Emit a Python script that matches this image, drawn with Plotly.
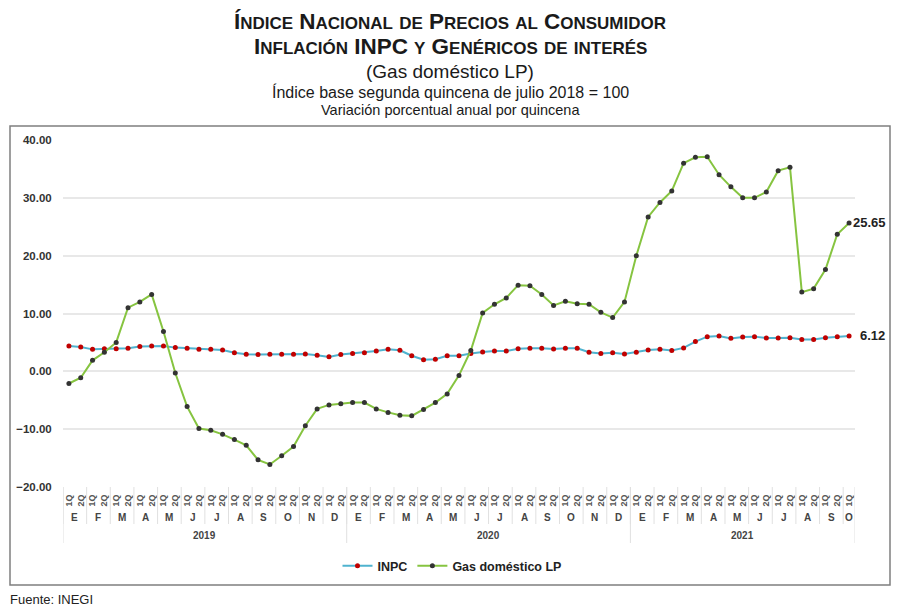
import plotly.graph_objects as go

# ---------------- data ----------------
quincenas = ["1Q", "2Q"] * 33 + ["1Q"]
meses = ["E", "F", "M", "A", "M", "J", "J", "A", "S", "O", "N", "D",
         "E", "F", "M", "A", "M", "J", "J", "A", "S", "O", "N", "D",
         "E", "F", "M", "A", "M", "J", "J", "A", "S", "O"]
anios = ["2019", "2020", "2021"]
quincenas_por_anio = [24, 24, 19]

inpc = [4.4, 4.2, 3.8, 3.9, 3.9, 4.0, 4.3, 4.4, 4.4, 4.1, 4.0, 3.8, 3.8, 3.7,
        3.2, 2.95, 2.9, 2.95, 2.95, 2.95, 3.0, 2.8, 2.5, 2.9,
        3.1, 3.2, 3.5, 3.8, 3.65, 2.7, 2.0, 2.1, 2.7, 2.7, 3.1, 3.35, 3.5, 3.5,
        3.9, 4.0, 4.0, 3.85, 4.0, 4.0, 3.3, 3.1, 3.2, 3.0,
        3.3, 3.7, 3.8, 3.6, 4.05, 5.15, 6.0, 6.1, 5.7, 5.95, 6.0, 5.75, 5.75,
        5.8, 5.5, 5.5, 5.8, 6.0, 6.12]

gas = [-2.1, -1.1, 1.9, 3.3, 5.0, 11.0, 12.0, 13.3, 6.9, -0.3, -6.1, -9.9,
       -10.2, -10.9, -11.8, -12.8, -15.3, -16.1, -14.6, -13.0, -9.4, -6.5, -5.8, -5.6,
       -5.4, -5.4, -6.5, -7.1, -7.6, -7.7, -6.6, -5.4, -3.9, -0.7, 3.6, 10.1,
       11.6, 12.7, 14.9, 14.8, 13.3, 11.4, 12.1, 11.7, 11.6, 10.2, 9.3, 12.0,
       20.0, 26.7, 29.2, 31.2, 36.0, 37.0, 37.1, 34.0, 31.9, 30.0, 30.0, 31.0,
       34.7, 35.3, 13.7, 14.3, 17.6, 23.7, 25.65]

# ---------------- layout geometry ----------------
# the page body has an 8px margin, so compensate
OFF = 8
W, H = 900 - 2 * OFF, 615 - 2 * OFF
L, R, T, B = 63 - OFF, 855 - OFF, 140 - OFF, 487 - OFF
pw, ph = R - L, B - T


def px(xref_px):
    return (xref_px - OFF - L) / pw


def py(yref_px):
    return (B - (yref_px - OFF)) / ph


x = list(range(len(quincenas)))
FONT = "Liberation Sans, Arial, sans-serif"

fig = go.Figure()
fig.add_trace(go.Scatter(
    x=x, y=inpc, name="INPC", mode="lines+markers",
    line=dict(color="#4fb3cf", width=2),
    marker=dict(color="#c00000", size=5)))
fig.add_trace(go.Scatter(
    x=x, y=gas, name="Gas doméstico LP", mode="lines+markers",
    line=dict(color="#86c440", width=2),
    marker=dict(color="#333333", size=5)))

annotations = []
shapes = []


def sc(text, big=22.5, small=17):
    out = []
    for word in text.split(" "):
        if word.startswith("!"):
            out.append(f'<span style="font-size:{big}px">{word[1:]}</span>')
        elif word.startswith("^"):
            out.append(f'<span style="font-size:{big}px">{word[1]}</span>'
                       f'<span style="font-size:{small}px">{word[2:]}</span>')
        else:
            out.append(f'<span style="font-size:{small}px">{word}</span>')
    return "<b>" + " ".join(out) + "</b>"


titles = [
    (sc("^ÍNDICE ^NACIONAL DE ^PRECIOS AL ^CONSUMIDOR"), 22, 21),
    (sc("^INFLACIÓN !INPC Y ^GENÉRICOS DE INTERÉS"), 22, 47),
    ("(Gas doméstico LP)", 19, 71),
    ("Índice base segunda quincena de julio 2018 = 100", 16, 92),
    ("Variación porcentual anual por quincena", 14.5, 110),
]
for txt, size, yp in titles:
    annotations.append(dict(
        text=txt, x=px(450), y=py(yp), xref="paper", yref="paper",
        showarrow=False, xanchor="center", yanchor="middle",
        font=dict(family=FONT, size=size, color="#1a1a1a")))

# month labels and dividers
DIV = "#e0e0e0"
for k, m in enumerate(meses):
    start = 2 * k - 0.5
    end = min(2 * k + 1.5, len(x) - 0.5)
    annotations.append(dict(
        text=f"<b>{m}</b>", x=(start + end) / 2, y=py(517), xref="x", yref="paper",
        showarrow=False, xanchor="center", yanchor="middle",
        font=dict(family=FONT, size=10, color="#444444")))
    shapes.append(dict(type="line", xref="x", yref="paper", x0=start, x1=start,
                       y0=py(487), y1=py(524), line=dict(color=DIV, width=1)))
shapes.append(dict(type="line", xref="x", yref="paper", x0=len(x) - 0.5, x1=len(x) - 0.5,
                   y0=py(487), y1=py(543), line=dict(color=DIV, width=1)))

# year labels and dividers
pos = -0.5
for a, n in zip(anios, quincenas_por_anio):
    annotations.append(dict(
        text=f"<b>{a}</b>", x=pos + n / 2, y=py(535), xref="x", yref="paper",
        showarrow=False, xanchor="center", yanchor="middle",
        font=dict(family=FONT, size=10, color="#444444")))
    shapes.append(dict(type="line", xref="x", yref="paper", x0=pos, x1=pos,
                       y0=py(487), y1=py(543), line=dict(color=DIV, width=1)))
    pos += n

# end labels
annotations.append(dict(
    text=f"<b>{gas[-1]:.2f}</b>", x=x[-1], y=gas[-1], xref="x", yref="y",
    showarrow=False, xanchor="left", yanchor="middle", xshift=2,
    font=dict(family=FONT, size=13, color="#222222")))
annotations.append(dict(
    text=f"<b>{inpc[-1]:.2f}</b>", x=x[-1], y=inpc[-1], xref="x", yref="y",
    showarrow=False, xanchor="left", yanchor="middle", xshift=9,
    font=dict(family=FONT, size=13, color="#222222")))

# source
annotations.append(dict(
    text="Fuente: INEGI", x=px(OFF), y=py(599), xref="paper", yref="paper",
    showarrow=False, xanchor="left", yanchor="middle",
    font=dict(family=FONT, size=13, color="#222222")))

# outer frame
shapes.append(dict(type="rect", xref="paper", yref="paper",
                   x0=px(10), x1=px(890), y0=py(585), y1=py(126),
                   line=dict(color="#7f7f7f", width=1.5), fillcolor="rgba(0,0,0,0)",
                   layer="below"))

fig.update_layout(
    width=W, height=H,
    margin=dict(l=L, r=W - R, t=T, b=H - B, autoexpand=False),
    paper_bgcolor="white", plot_bgcolor="white",
    font=dict(family=FONT, color="#333333"),
    showlegend=True,
    legend=dict(orientation="h", x=px(452), xanchor="center", y=py(566), yanchor="middle",
                font=dict(family=FONT, size=12.5, color="#222222", weight="bold"),
                itemwidth=30, tracegroupgap=0),
    annotations=annotations,
    shapes=shapes,
)
fig.update_xaxes(
    range=[-0.5, len(x) - 0.5], tickmode="array", tickvals=x, ticktext=quincenas,
    tickangle=-90, tickfont=dict(family=FONT, size=9, color="#555555", weight="bold"),
    showgrid=False, zeroline=False, showline=False, ticks="outside", ticklen=3,
    tickcolor="rgba(0,0,0,0)")
fig.update_yaxes(
    range=[-20, 40], dtick=10, tickformat=".2f",
    tickfont=dict(family=FONT, size=11.5, color="#333333", weight="bold"),
    showgrid=True, gridcolor="#e8e8e8", gridwidth=1.5, zeroline=False,
    showline=False, ticks="outside", ticklen=8, tickcolor="rgba(0,0,0,0)")

fig.write_html("out.html")
